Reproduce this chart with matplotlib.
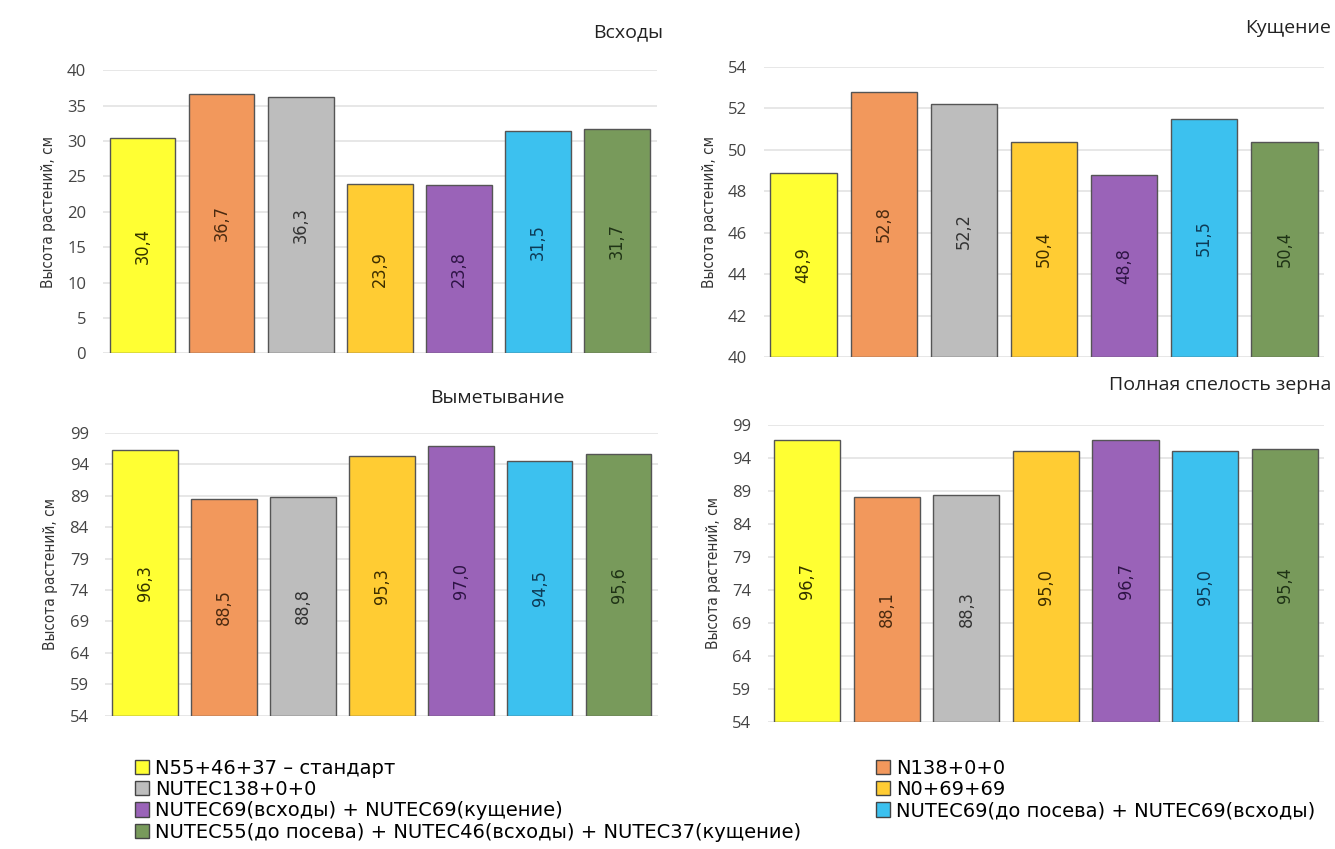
import matplotlib.pyplot as plt
import matplotlib.patches as mpatches
import numpy as np

# variants (legend order)
variants = [
    "N55+46+37 – стандарт",
    "N138+0+0",
    "NUTEC138+0+0",
    "N0+69+69",
    "NUTEC69(всходы) + NUTEC69(кущение)",
    "NUTEC69(до посева) + NUTEC69(всходы)",
    "NUTEC55(до посева) + NUTEC46(всходы) + NUTEC37(кущение)",
]
colors = ["#FFFF33", "#F2985C", "#BDBDBD", "#FFCC33", "#9A63B8", "#3CC1EF", "#789A5B"]
label_colors = ["#333300", "#4a2a10", "#333333", "#3d2e00", "#2e1445", "#0e3a55", "#1f3316"]

# plant height, cm
h_shoots = [30.4, 36.7, 36.3, 23.9, 23.8, 31.5, 31.7]
h_tillering = [48.9, 52.8, 52.2, 50.4, 48.8, 51.5, 50.4]
h_heading = [96.3, 88.5, 88.8, 95.3, 97.0, 94.5, 95.6]
h_ripeness = [96.7, 88.1, 88.3, 95.0, 96.7, 95.0, 95.4]

panels = [
    # title, values, yticks, axes rect, title pos (x, y, ha)
    ("Всходы", h_shoots, np.arange(0, 41, 5), [0.077, 0.584, 0.415, 0.333], (0.497, 0.962, "right")),
    ("Кущение", h_tillering, np.arange(40, 55, 2), [0.572, 0.5795, 0.420, 0.3416], (0.997, 0.967, "right")),
    ("Выметывание", h_heading, np.arange(54, 100, 5), [0.079, 0.157, 0.414, 0.333], (0.322, 0.531, "left")),
    ("Полная спелость зерна", h_ripeness, np.arange(54, 100, 5), [0.575, 0.1496, 0.417, 0.350], (0.997, 0.547, "right")),
]

plt.rcParams["font.family"] = ["Open Sans", "DejaVu Sans"]

fig = plt.figure(figsize=(13.35, 8.49), dpi=100)

for title, vals, yticks, rect, (tx, ty, tha) in panels:
    ax = fig.add_axes(rect)
    x = np.arange(len(vals))
    base = yticks[0]
    heights = [v - base for v in vals]
    ax.bar(x, heights, bottom=base, width=0.83, color=colors,
           edgecolor="#555555", linewidth=1.0, zorder=3)
    for xi, v, lc in zip(x, vals, label_colors):
        ax.text(xi, (base + v) / 2, f"{v:.1f}".replace(".", ","), rotation=90,
                ha="center", va="center", fontsize=13, color=lc,
                family="DejaVu Sans", fontstretch="condensed", zorder=4)
    ax.set_xlim(-0.5, len(vals) - 0.5)
    ax.set_ylim(yticks[0], yticks[-1])
    ax.set_yticks(yticks)
    ax.set_xticks([])
    ax.tick_params(axis="y", length=0, labelsize=12, labelcolor="#444444", pad=12)
    ax.grid(axis="y", color="#E3E3E3", linewidth=1.2, zorder=0)
    for s in ax.spines.values():
        s.set_visible(False)
    ax.set_ylabel("Высота растений, см", fontsize=11, color="#333333",
                  family="DejaVu Sans", fontstretch="condensed", labelpad=8)
    fig.text(tx, ty, title, ha=tha, va="center", fontsize=14, color="#222222")

handles = [mpatches.Patch(facecolor=c, edgecolor="#444444", linewidth=1.0) for c in colors]
leg_kw = dict(frameon=False, prop={"family": "DejaVu Sans", "size": 14},
              handlelength=0.75, handleheight=0.75, handletextpad=0.3,
              labelspacing=0.12, borderaxespad=0)
fig.legend([handles[i] for i in (0, 2, 4, 6)], [variants[i] for i in (0, 2, 4, 6)],
           loc="upper left", bbox_to_anchor=(0.095, 0.1155), **leg_kw)
fig.legend([handles[i] for i in (1, 3, 5)], [variants[i] for i in (1, 3, 5)],
           loc="upper left", bbox_to_anchor=(0.650, 0.1155), **leg_kw)

fig.savefig("out.png", dpi=100, facecolor="white")
